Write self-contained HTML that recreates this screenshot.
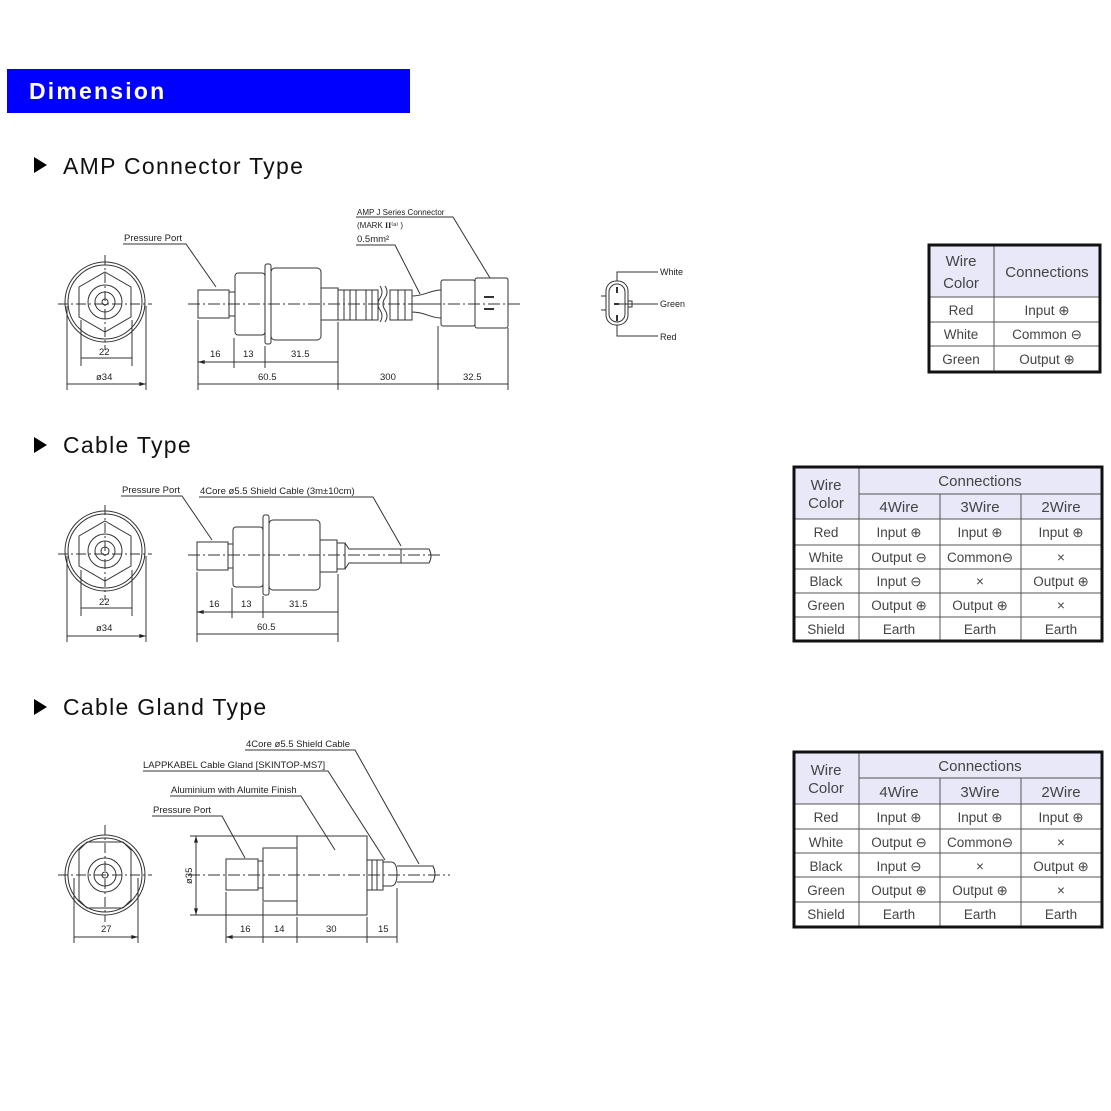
<!DOCTYPE html>
<html><head><meta charset="utf-8"><style>
html,body{margin:0;padding:0;background:#fff;}
svg{display:block;font-family:"Liberation Sans",sans-serif;}
</style></head><body>
<svg width="1111" height="1111" viewBox="0 0 1111 1111" xmlns="http://www.w3.org/2000/svg">
<defs>
<marker id="a" viewBox="0 0 10 6" refX="10" refY="3" markerWidth="7" markerHeight="4" orient="auto-start-reverse"><path d="M0,0L10,3L0,6z" fill="#222"/></marker>
</defs>
<rect width="1111" height="1111" fill="#fff"/>
<rect x="7" y="69" width="403" height="44" fill="#0000ff"/>
<text x="29" y="99" font-size="23" font-weight="bold" fill="#fff" letter-spacing="2.2">Dimension</text>
<g font-size="23" fill="#111" letter-spacing="1.3">
<path d="M34,157L47,165L34,173z" fill="#000"/><text x="63" y="174">AMP  Connector  Type</text>
<path d="M34,437L47,445L34,453z" fill="#000"/><text x="63" y="453">Cable  Type</text>
<path d="M34,699L47,707L34,715z" fill="#000"/><text x="63" y="715">Cable  Gland  Type</text>
</g>

<g stroke="#333" stroke-width="1" fill="none">
<circle cx="105" cy="302" r="40"/><circle cx="105" cy="302" r="37"/>
<polygon points="105,272 131,287 131,317 105,332 79,317 79,287"/>
<circle cx="105" cy="302" r="17"/><circle cx="105" cy="302" r="10"/><circle cx="105" cy="302" r="3"/>
<path d="M58,304H152M105,255V350" stroke-dasharray="10,3,2,3"/>
<rect x="198" y="290" width="31" height="28"/><rect x="229" y="292" width="6" height="24"/>
<rect x="235" y="273" width="30" height="62" rx="3"/>
<rect x="265" y="264" width="6" height="80" rx="2"/>
<rect x="271" y="268" width="50" height="72" rx="4"/>
<rect x="321" y="288" width="17" height="32"/>
<path d="M338,290h40v30h-40z M344,290v30 M350,290v30 M356,290v30 M366,290v30 M372,290v30"/>
<path d="M380,286q4,6 0,12q-4,6 0,12 q4,6 0,12 M385,286q4,6 0,12q-4,6 0,12 q4,6 0,12"/>
<rect x="390" y="290" width="22" height="30"/><path d="M398,290v30 M405,290v30"/>
<path d="M412,296C425,296 430,290 441,290 M412,304H441 M412,312C425,312 430,318 441,318"/>
<rect x="441" y="280" width="34" height="46" rx="2"/><rect x="475" y="278" width="33" height="50" rx="2"/>
<path d="M484,297h10M484,309h10" stroke-width="2"/>
<path d="M188,304H520" stroke-dasharray="12,3,2,3"/>
<path d="M123,244H186L216,287 M356,217H453L490,278 M356,245H395L420,294"/>
<path d="M198,320V390M234,338V368M265,346V368M338,322V390M438,326V390M508,328V390M81,320V366M132,320V366M67,306V390M146,306V390"/>
<path d="M198,362H234M234,362H265M265,362H338M198,384H338M338,384H438M438,384H508M81,358H132M67,384H146" marker-start="url(#a)" marker-end="url(#a)"/>

<circle cx="105" cy="551" r="40"/><circle cx="105" cy="551" r="37"/>
<polygon points="105,521 131,536 131,566 105,581 79,566 79,536"/>
<circle cx="105" cy="551" r="17"/><circle cx="105" cy="551" r="10"/><circle cx="105" cy="551" r="4"/>
<path d="M58,554H152M105,505V600" stroke-dasharray="10,3,2,3"/>
<rect x="197" y="542" width="31" height="28"/><rect x="228" y="544" width="5" height="24"/>
<rect x="233" y="527" width="30" height="60" rx="3"/>
<rect x="263" y="515" width="6" height="80" rx="2"/>
<rect x="269" y="520" width="51" height="70" rx="4"/>
<rect x="320" y="540" width="17" height="32"/>
<path d="M337,543h8l4,6h52M337,569h8l4,-6h52 M401,549v14 M345,543v26"/>
<path d="M401,549h28q4,7 0,14h-28"/>
<path d="M188,555H440" stroke-dasharray="12,3,2,3"/>
<path d="M121,496H182L212,540 M199,497H373L401,546"/>
<path d="M197,572V642M232,588V618M263,596V618M338,574V642M81,570V616M132,570V616M67,556V642M146,556V642"/>
<path d="M197,612H232M232,612H263M263,612H338M197,634H338M81,608H132M67,636H146" marker-start="url(#a)" marker-end="url(#a)"/>

<circle cx="105" cy="875" r="40"/><circle cx="105" cy="875" r="37"/>
<path d="M79,850L87,842H123L131,850V900L123,908H87L79,900Z"/>
<circle cx="105" cy="875" r="17"/><circle cx="105" cy="875" r="11"/><circle cx="105" cy="875" r="3"/>
<path d="M58,875H152M105,825V922" stroke-dasharray="10,3,2,3"/>
<rect x="226" y="859" width="32" height="31"/><rect x="258" y="861" width="5" height="27"/>
<rect x="263" y="848" width="34" height="53"/>
<rect x="297" y="836" width="70" height="79"/>
<rect x="367" y="860" width="16" height="30"/><path d="M372,860v30M377,860v30"/>
<path d="M383,862h8q6,0 6,12q0,12 -6,12h-8z"/>
<path d="M397,866h36q4,8 0,16h-36"/>
<path d="M188,875H450" stroke-dasharray="12,3,2,3"/>
<path d="M245,750H355L419,864 M143,771H328L385,860 M170,796H301L335,850 M152,816H222L245,858"/>
<path d="M190,836H297M190,915H297"/><path d="M196,836V915" marker-start="url(#a)" marker-end="url(#a)"/>
<path d="M226,892V943M263,902V943M297,917V943M367,917V943M397,888V943M74,878V943M138,878V943"/>
<path d="M226,937H263M263,937H297M297,937H367M367,937H397M74,937H138" marker-start="url(#a)" marker-end="url(#a)"/>

<rect x="606" y="281" width="22" height="44" rx="10"/><rect x="609" y="284" width="16" height="38" rx="8"/>
<path d="M617,281V272H658M617,325V336H658M617,304H658M601,296h5M601,310h5"/>
<rect x="628" y="301" width="4" height="6"/>
<path d="M617,287v6M617,315v6M614,304h5" stroke-width="2"/>
</g>

<g font-size="9.5" fill="#222">
<text x="99" y="355">22</text><text x="96" y="380">ø34</text>
<text x="210" y="357">16</text><text x="243" y="357">13</text><text x="291" y="357">31.5</text>
<text x="258" y="380">60.5</text><text x="380" y="380">300</text><text x="463" y="380">32.5</text>
<text x="124" y="241">Pressure Port</text>
<text x="357" y="215" font-size="8">AMP J Series Connector</text>
<text x="357" y="228" font-size="8">(MARK <tspan font-weight="bold" font-family="Liberation Serif">II</tspan>⁽ᵃ⁾ )</text>
<text x="357" y="242">0.5mm²</text>
<text x="660" y="275" font-size="9">White</text><text x="660" y="307" font-size="9">Green</text><text x="660" y="340" font-size="9">Red</text>

<text x="99" y="605">22</text><text x="96" y="631">ø34</text>
<text x="209" y="607">16</text><text x="241" y="607">13</text><text x="289" y="607">31.5</text>
<text x="257" y="630">60.5</text>
<text x="122" y="493">Pressure Port</text>
<text x="200" y="494">4Core  ø5.5  Shield  Cable  (3m±10cm)</text>

<text x="101" y="932">27</text>
<text x="240" y="932">16</text><text x="274" y="932">14</text><text x="326" y="932">30</text><text x="378" y="932">15</text>
<text transform="translate(192,884) rotate(-90)">ø35</text>
<text x="246" y="747">4Core ø5.5 Shield Cable</text>
<text x="143" y="768">LAPPKABEL Cable Gland [SKINTOP-MS7]</text>
<text x="171" y="793">Aluminium with Alumite Finish</text>
<text x="153" y="813">Pressure Port</text>
</g>

<g font-size="13.5" fill="#444" text-anchor="middle">
<rect x="929" y="245" width="171" height="52" fill="#e8e8f8"/>
<g stroke="#555" stroke-width="1" fill="none">
<path d="M994,245V372M929,297H1100M929,322H1100M929,346H1100"/>
</g>
<rect x="929" y="245" width="171" height="127" fill="none" stroke="#111" stroke-width="3"/>
<text x="961" y="266" font-size="15">Wire</text><text x="961" y="288" font-size="15">Color</text>
<text x="1047" y="277" font-size="15">Connections</text>
<text x="961" y="315">Red</text><text x="1047" y="315">Input ⊕</text>
<text x="961" y="339">White</text><text x="1047" y="339">Common ⊖</text>
<text x="961" y="364">Green</text><text x="1047" y="364">Output ⊕</text>
</g>

<g font-size="13.5" fill="#444" text-anchor="middle">
<rect x="794" y="467" width="308" height="52" fill="#e8e8f8"/>
<g stroke="#555" stroke-width="1" fill="none">
<path d="M859,467V641M940,494V641M1021,494V641M859,494H1102M794,519H1102M794,545H1102M794,569H1102M794,593H1102M794,617H1102"/>
</g>
<rect x="794" y="467" width="308" height="174" fill="none" stroke="#111" stroke-width="3"/>
<text x="826" y="490" font-size="15">Wire</text><text x="826" y="508" font-size="15">Color</text>
<text x="980" y="486" font-size="15">Connections</text>
<text x="899" y="512" font-size="15">4Wire</text><text x="980" y="512" font-size="15">3Wire</text><text x="1061" y="512" font-size="15">2Wire</text>
<text x="826" y="537">Red</text><text x="899" y="537">Input ⊕</text><text x="980" y="537">Input ⊕</text><text x="1061" y="537">Input ⊕</text>
<text x="826" y="562">White</text><text x="899" y="562">Output ⊖</text><text x="980" y="562">Common⊖</text><text x="1061" y="562">×</text>
<text x="826" y="586">Black</text><text x="899" y="586">Input ⊖</text><text x="980" y="586">×</text><text x="1061" y="586">Output ⊕</text>
<text x="826" y="610">Green</text><text x="899" y="610">Output ⊕</text><text x="980" y="610">Output ⊕</text><text x="1061" y="610">×</text>
<text x="826" y="634">Shield</text><text x="899" y="634">Earth</text><text x="980" y="634">Earth</text><text x="1061" y="634">Earth</text>
</g>

<g font-size="13.5" fill="#444" text-anchor="middle">
<rect x="794" y="752" width="308" height="52" fill="#e8e8f8"/>
<g stroke="#555" stroke-width="1" fill="none">
<path d="M859,752V927M940,778V927M1021,778V927M859,778H1102M794,804H1102M794,829H1102M794,853H1102M794,877H1102M794,902H1102"/>
</g>
<rect x="794" y="752" width="308" height="175" fill="none" stroke="#111" stroke-width="3"/>
<text x="826" y="775" font-size="15">Wire</text><text x="826" y="793" font-size="15">Color</text>
<text x="980" y="771" font-size="15">Connections</text>
<text x="899" y="797" font-size="15">4Wire</text><text x="980" y="797" font-size="15">3Wire</text><text x="1061" y="797" font-size="15">2Wire</text>
<text x="826" y="822">Red</text><text x="899" y="822">Input ⊕</text><text x="980" y="822">Input ⊕</text><text x="1061" y="822">Input ⊕</text>
<text x="826" y="847">White</text><text x="899" y="847">Output ⊖</text><text x="980" y="847">Common⊖</text><text x="1061" y="847">×</text>
<text x="826" y="871">Black</text><text x="899" y="871">Input ⊖</text><text x="980" y="871">×</text><text x="1061" y="871">Output ⊕</text>
<text x="826" y="895">Green</text><text x="899" y="895">Output ⊕</text><text x="980" y="895">Output ⊕</text><text x="1061" y="895">×</text>
<text x="826" y="919">Shield</text><text x="899" y="919">Earth</text><text x="980" y="919">Earth</text><text x="1061" y="919">Earth</text>
</g>
</svg>
</body></html>
